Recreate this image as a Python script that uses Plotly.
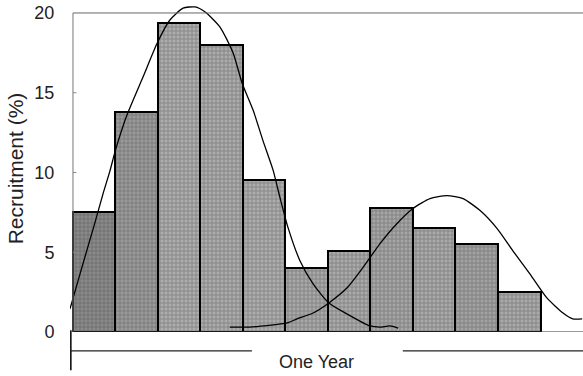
import plotly.graph_objects as go

# Monthly recruitment over one year (percent of annual total)
months = list(range(11))
recruitment = [7.5, 13.8, 19.4, 18.0, 9.5, 4.0, 5.1, 7.8, 6.5, 5.5, 2.5]

# First (spring) recruitment pulse, fitted curve
pulse1_x = [-0.57, -0.3, 0.0, 0.2, 0.37, 0.5, 0.77, 1.15, 1.48, 1.78, 2.09, 2.37, 2.61,
            2.96, 3.27, 3.48, 3.74, 3.97, 4.21, 4.37, 4.56, 4.84, 5.15, 5.52, 5.95,
            6.49, 6.72, 6.96, 7.15]
pulse1_y = [1.45, 3.96, 6.7, 8.6, 10.1, 11.4, 13.6, 16.0, 18.1, 19.56, 20.3, 20.38, 20.06,
            19.12, 17.48, 15.6, 13.9, 12.0, 10.13, 8.43, 6.54, 4.47, 3.02, 1.82, 1.13,
            0.38, 0.31, 0.38, 0.25]

# Second (autumn) recruitment pulse, fitted curve
pulse2_x = [3.19, 3.66, 4.54, 4.77, 5.15, 5.52, 5.95, 6.32, 6.72, 7.12, 7.5, 7.9, 8.3,
            8.68, 9.08, 9.48, 9.85, 10.25, 10.65, 11.03, 11.26, 11.48]
pulse2_y = [0.31, 0.31, 0.57, 0.82, 1.19, 1.82, 2.77, 4.03, 5.53, 6.79, 7.74, 8.36, 8.55,
            8.36, 7.61, 6.48, 5.09, 3.65, 2.14, 1.19, 0.82, 0.82]

y_ticks = [0, 5, 10, 15, 20]
year_label = "One Year"

bar_greys = ["#8a8a8a", "#9a9a9a", "#adadad", "#ababab", "#adadad", "#a8a8a8",
             "#aaaaaa", "#a5a5a5", "#aaaaaa", "#a2a2a2", "#aaaaaa"]

fig = go.Figure()
fig.add_trace(go.Bar(
    x=months, y=recruitment, width=1.0,
    marker=dict(color=bar_greys,
                line=dict(color="black", width=2),
                pattern=dict(shape="+", fgcolor="#f4f4f4", size=4, solidity=0.3,
                             fillmode="overlay")),
    showlegend=False,
))
for xs, ys in [(pulse1_x, pulse1_y), (pulse2_x, pulse2_y)]:
    fig.add_trace(go.Scatter(x=xs, y=ys, mode="lines",
                             line=dict(color="black", width=1.3, shape="spline", smoothing=0.6),
                             showlegend=False, hoverinfo="skip"))

x_lo, x_hi = -0.5, 11.5
shapes = [
    # frame: left and top edges, baseline
    dict(type="line", xref="x", yref="y", x0=x_lo, x1=x_lo, y0=0, y1=20,
         line=dict(color="#777777", width=1)),
    dict(type="line", xref="x", yref="y", x0=x_lo, x1=x_hi, y0=20, y1=20,
         line=dict(color="#666666", width=1)),
    dict(type="line", xref="x", yref="y", x0=x_lo, x1=x_hi, y0=0, y1=0,
         line=dict(color="#333333", width=1.2)),
    # one-year bracket below the axis
    dict(type="line", xref="x", yref="paper", x0=-0.55, x1=-0.55, y0=0.005, y1=-0.117,
         line=dict(color="black", width=1.5)),
    dict(type="line", xref="x", yref="paper", x0=-0.55, x1=3.71, y0=-0.058, y1=-0.058,
         line=dict(color="#222222", width=1.2)),
    dict(type="line", xref="x", yref="paper", x0=7.26, x1=x_hi, y0=-0.058, y1=-0.058,
         line=dict(color="#222222", width=1.2)),
]
for t in y_ticks[1:-1]:
    shapes.append(dict(type="line", xref="x", yref="y", x0=x_lo, x1=x_lo + 0.08, y0=t, y1=t,
                       line=dict(color="#888888", width=1)))

fig.update_layout(
    width=583, height=376,
    margin=dict(l=70, r=0, t=5, b=44),
    paper_bgcolor="white", plot_bgcolor="white",
    bargap=0,
    font=dict(family="Liberation Sans, Arial, sans-serif", color="#222222"),
    shapes=shapes,
    annotations=[dict(text=year_label, xref="x", yref="paper", x=5.22, y=-0.092,
                      showarrow=False, font=dict(size=18, color="#222222"),
                      xanchor="center", yanchor="middle")],
    xaxis=dict(range=[-0.57, x_hi], showgrid=False, zeroline=False, showline=False,
               showticklabels=False, ticks=""),
    yaxis=dict(range=[0, 20.5], tickvals=y_ticks, showgrid=False, zeroline=False,
               showline=False, ticks="outside", ticklen=11, tickcolor="rgba(0,0,0,0)",
               tickfont=dict(size=18, color="#222222"),
               title=dict(text="Recruitment (%)", font=dict(size=21, color="#222222"),
                          standoff=5)),
)

fig.write_html("out.html")
